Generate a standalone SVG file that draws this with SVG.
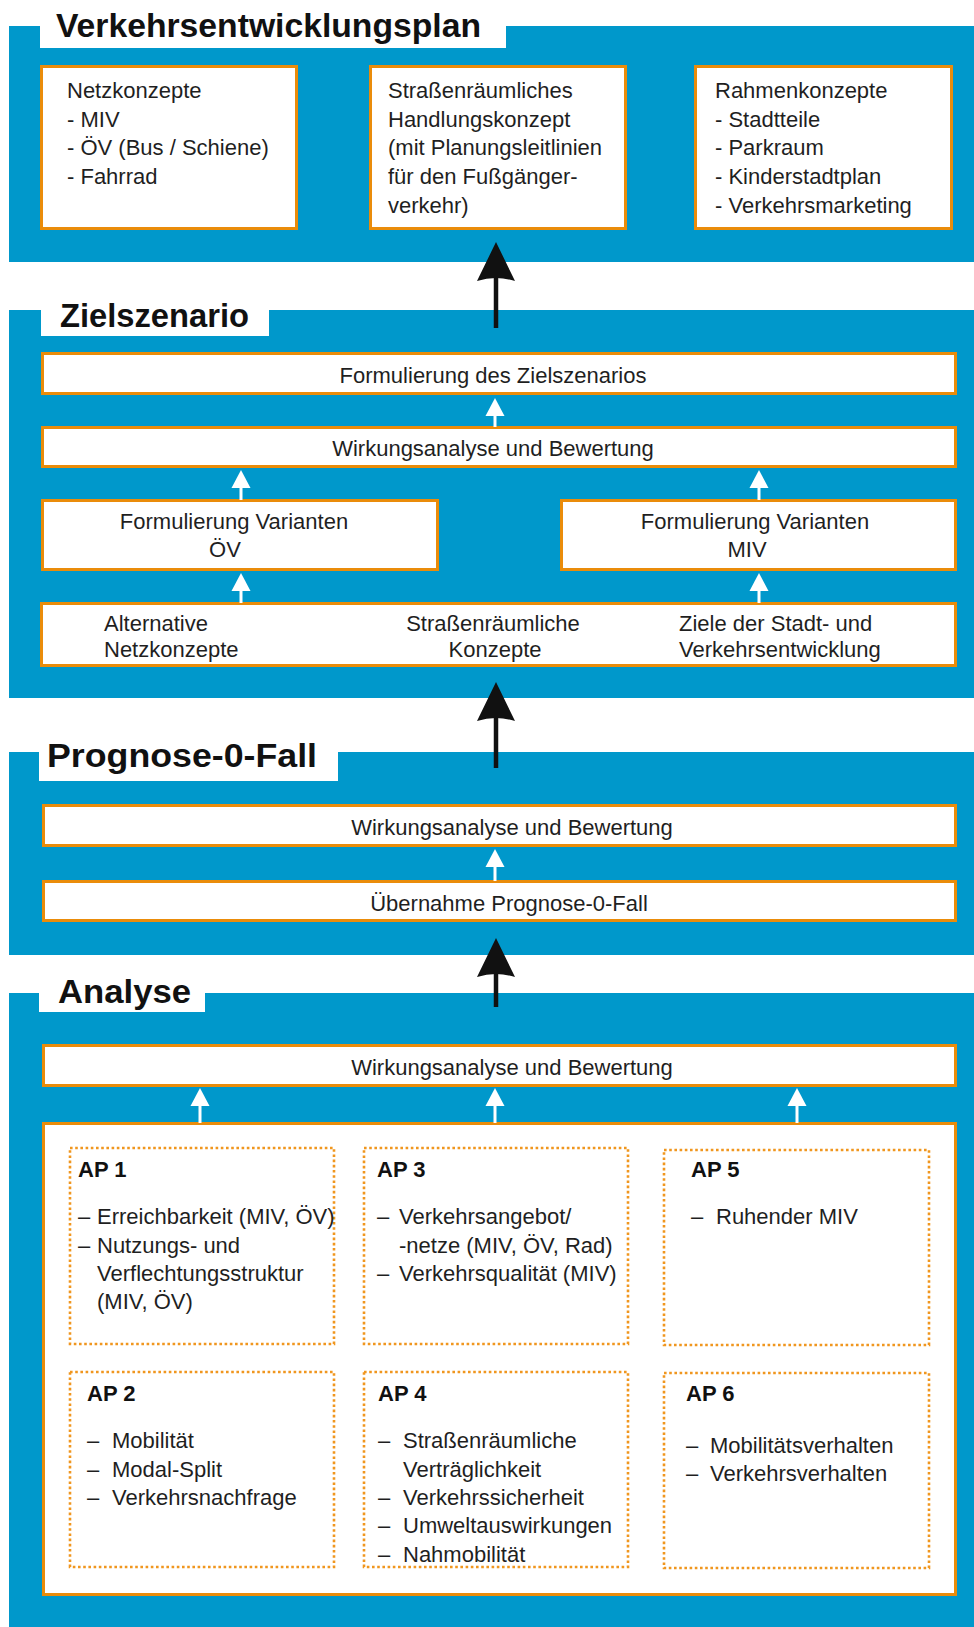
<svg xmlns="http://www.w3.org/2000/svg" xmlns:xlink="http://www.w3.org/1999/xlink" width="974" height="1627" viewBox="0 0 974 1627">
<style>
.band{fill:#0098CB}
.tbg{fill:#fff}
.title{font-family:"Liberation Sans",Arial,sans-serif;font-weight:bold;font-size:34px;fill:#111}
.box{fill:#fff;stroke:#EA8C0A;stroke-width:3}
.dot{fill:none;stroke:#F0961E;stroke-width:2.6;stroke-dasharray:2.6 2.6}
.t{font-family:"Liberation Sans",Arial,sans-serif;font-size:22px;fill:#1f1f1f}
.c{text-anchor:middle}
.ap{font-family:"Liberation Sans",Arial,sans-serif;font-size:22px;font-weight:bold;fill:#111}
.ws{stroke:#fff;stroke-width:3}
.wh{fill:#fff}
.bs{stroke:#111;stroke-width:4.5}
.bh{fill:#111}
</style>
<defs>
<path id="wHead" d="M0,0 L9.5,18 L-9.5,18 Z"/>
<path id="bHead" d="M0,0 L19,39 Q0,33 -19,39 Z"/>
</defs>

<!-- Bands -->
<g id="band-vep">
<rect class="band" x="9" y="26" width="965" height="236"/>
<rect class="tbg" x="40" y="0" width="466" height="48"/>
<text class="title" x="56" y="37" textLength="425" lengthAdjust="spacingAndGlyphs">Verkehrsentwicklungsplan</text>
</g>
<g id="band-ziel">
<rect class="band" x="9" y="310" width="965" height="388"/>
<rect class="tbg" x="41" y="290" width="228" height="46"/>
<text class="title" x="60" y="327" textLength="189" lengthAdjust="spacingAndGlyphs">Zielszenario</text>
</g>
<g id="band-prog">
<rect class="band" x="9" y="752" width="965" height="203"/>
<rect class="tbg" x="39" y="735" width="299" height="46"/>
<text class="title" x="47" y="767" textLength="270" lengthAdjust="spacingAndGlyphs">Prognose-0-Fall</text>
</g>
<g id="band-analyse">
<rect class="band" x="9" y="993" width="965" height="634"/>
<rect class="tbg" x="39" y="975" width="166" height="37"/>
<text class="title" x="58" y="1003" textLength="133" lengthAdjust="spacingAndGlyphs">Analyse</text>
</g>

<!-- Top boxes -->
<g id="netzkonzepte">
<rect class="box" x="41.5" y="66.5" width="255" height="162"/>
<text class="t" x="67" y="98">Netzkonzepte</text>
<text class="t" x="67" y="127">- MIV</text>
<text class="t" x="67" y="155">- ÖV (Bus / Schiene)</text>
<text class="t" x="67" y="184">- Fahrrad</text>
</g>
<g id="handlungskonzept">
<rect class="box" x="370.5" y="66.5" width="255" height="162"/>
<text class="t" x="388" y="98">Straßenräumliches</text>
<text class="t" x="388" y="127">Handlungskonzept</text>
<text class="t" x="388" y="155">(mit Planungsleitlinien</text>
<text class="t" x="388" y="184">für den Fußgänger-</text>
<text class="t" x="388" y="213">verkehr)</text>
</g>
<g id="rahmenkonzepte">
<rect class="box" x="695.5" y="66.5" width="256" height="162"/>
<text class="t" x="715" y="98">Rahmenkonzepte</text>
<text class="t" x="715" y="127">- Stadtteile</text>
<text class="t" x="715" y="155">- Parkraum</text>
<text class="t" x="715" y="184">- Kinderstadtplan</text>
<text class="t" x="715" y="213">- Verkehrsmarketing</text>
</g>

<!-- Zielszenario boxes -->
<g id="formulierung-ziel">
<rect class="box" x="42.5" y="353.5" width="913" height="40"/>
<text class="t c" x="493" y="383">Formulierung des Zielszenarios</text>
</g>
<g id="wirkung-ziel">
<rect class="box" x="42.5" y="427.5" width="913" height="39"/>
<text class="t c" x="493" y="456">Wirkungsanalyse und Bewertung</text>
</g>
<g id="varianten-oev">
<rect class="box" x="42.5" y="500.5" width="395" height="69"/>
<text class="t c" x="234" y="529">Formulierung Varianten</text>
<text class="t c" x="225" y="557">ÖV</text>
</g>
<g id="varianten-miv">
<rect class="box" x="561.5" y="500.5" width="394" height="69"/>
<text class="t c" x="755" y="529">Formulierung Varianten</text>
<text class="t c" x="747" y="557">MIV</text>
</g>
<g id="grundlagen-ziel">
<rect class="box" x="41.5" y="603.5" width="914" height="62"/>
<text class="t" x="104" y="631">Alternative</text>
<text class="t" x="104" y="657">Netzkonzepte</text>
<text class="t c" x="493" y="631">Straßenräumliche</text>
<text class="t c" x="495" y="657">Konzepte</text>
<text class="t" x="679" y="631">Ziele der Stadt- und</text>
<text class="t" x="679" y="657">Verkehrsentwicklung</text>
</g>

<!-- Prognose boxes -->
<g id="wirkung-prog">
<rect class="box" x="43.5" y="805.5" width="912" height="40"/>
<text class="t c" x="512" y="835">Wirkungsanalyse und Bewertung</text>
</g>
<g id="uebernahme-prog">
<rect class="box" x="43.5" y="881.5" width="912" height="39"/>
<text class="t c" x="509" y="911">Übernahme Prognose-0-Fall</text>
</g>

<!-- Analyse boxes -->
<g id="wirkung-analyse">
<rect class="box" x="43.5" y="1045.5" width="912" height="40"/>
<text class="t c" x="512" y="1075">Wirkungsanalyse und Bewertung</text>
</g>
<g id="arbeitspakete">
<rect class="box" x="43.5" y="1123.5" width="912" height="471"/>
</g>
<g id="ap1">
<rect class="dot" x="70" y="1148" width="264" height="196"/>
<text class="ap" x="78" y="1177">AP 1</text>
<text class="t" x="78" y="1224">–</text><text class="t" x="97" y="1224">Erreichbarkeit (MIV, ÖV)</text>
<text class="t" x="78" y="1253">–</text><text class="t" x="97" y="1253">Nutzungs- und</text>
<text class="t" x="97" y="1281">Verflechtungsstruktur</text>
<text class="t" x="97" y="1309">(MIV, ÖV)</text>
</g>
<g id="ap3">
<rect class="dot" x="364" y="1148" width="264" height="196"/>
<text class="ap" x="377" y="1177">AP 3</text>
<text class="t" x="377" y="1224">–</text><text class="t" x="399" y="1224">Verkehrsangebot/</text>
<text class="t" x="399" y="1253">-netze (MIV, ÖV, Rad)</text>
<text class="t" x="377" y="1281">–</text><text class="t" x="399" y="1281">Verkehrsqualität (MIV)</text>
</g>
<g id="ap5">
<rect class="dot" x="664" y="1150" width="265" height="195"/>
<text class="ap" x="691" y="1177">AP 5</text>
<text class="t" x="691" y="1224">–</text><text class="t" x="716" y="1224">Ruhender MIV</text>
</g>
<g id="ap2">
<rect class="dot" x="70" y="1372" width="264" height="195"/>
<text class="ap" x="87" y="1401">AP 2</text>
<text class="t" x="87" y="1448">–</text><text class="t" x="112" y="1448">Mobilität</text>
<text class="t" x="87" y="1477">–</text><text class="t" x="112" y="1477">Modal-Split</text>
<text class="t" x="87" y="1505">–</text><text class="t" x="112" y="1505">Verkehrsnachfrage</text>
</g>
<g id="ap4">
<rect class="dot" x="364" y="1372" width="264" height="195"/>
<text class="ap" x="378" y="1401">AP 4</text>
<text class="t" x="378" y="1448">–</text><text class="t" x="403" y="1448">Straßenräumliche</text>
<text class="t" x="403" y="1477">Verträglichkeit</text>
<text class="t" x="378" y="1505">–</text><text class="t" x="403" y="1505">Verkehrssicherheit</text>
<text class="t" x="378" y="1533">–</text><text class="t" x="403" y="1533">Umweltauswirkungen</text>
<text class="t" x="378" y="1562">–</text><text class="t" x="403" y="1562">Nahmobilität</text>
</g>
<g id="ap6">
<rect class="dot" x="664" y="1373" width="265" height="195"/>
<text class="ap" x="686" y="1401">AP 6</text>
<text class="t" x="686" y="1453">–</text><text class="t" x="710" y="1453">Mobilitätsverhalten</text>
<text class="t" x="686" y="1481">–</text><text class="t" x="710" y="1481">Verkehrsverhalten</text>
</g>

<!-- Connectors -->
<g id="connectors">
<!-- big black arrows between phases -->
<line class="bs" x1="496" y1="276" x2="496" y2="328"/>
<use href="#bHead" xlink:href="#bHead" class="bh" x="496" y="242"/>
<line class="bs" x1="496" y1="716" x2="496" y2="768"/>
<use href="#bHead" xlink:href="#bHead" class="bh" x="496" y="682"/>
<line class="bs" x1="496" y1="972" x2="496" y2="1007"/>
<use href="#bHead" xlink:href="#bHead" class="bh" x="496" y="938"/>
<!-- white arrows Zielszenario -->
<line class="ws" x1="495" y1="414" x2="495" y2="427"/>
<use href="#wHead" xlink:href="#wHead" class="wh" x="495" y="398"/>
<line class="ws" x1="241" y1="486" x2="241" y2="500"/>
<use href="#wHead" xlink:href="#wHead" class="wh" x="241" y="470"/>
<line class="ws" x1="759" y1="486" x2="759" y2="500"/>
<use href="#wHead" xlink:href="#wHead" class="wh" x="759" y="470"/>
<line class="ws" x1="241" y1="589" x2="241" y2="603"/>
<use href="#wHead" xlink:href="#wHead" class="wh" x="241" y="573"/>
<line class="ws" x1="759" y1="589" x2="759" y2="603"/>
<use href="#wHead" xlink:href="#wHead" class="wh" x="759" y="573"/>
<!-- Prognose -->
<line class="ws" x1="495" y1="865" x2="495" y2="881"/>
<use href="#wHead" xlink:href="#wHead" class="wh" x="495" y="849"/>
<!-- Analyse -->
<line class="ws" x1="200" y1="1104" x2="200" y2="1123"/>
<use href="#wHead" xlink:href="#wHead" class="wh" x="200" y="1088"/>
<line class="ws" x1="495" y1="1104" x2="495" y2="1123"/>
<use href="#wHead" xlink:href="#wHead" class="wh" x="495" y="1088"/>
<line class="ws" x1="797" y1="1104" x2="797" y2="1123"/>
<use href="#wHead" xlink:href="#wHead" class="wh" x="797" y="1088"/>
</g>
</svg>
